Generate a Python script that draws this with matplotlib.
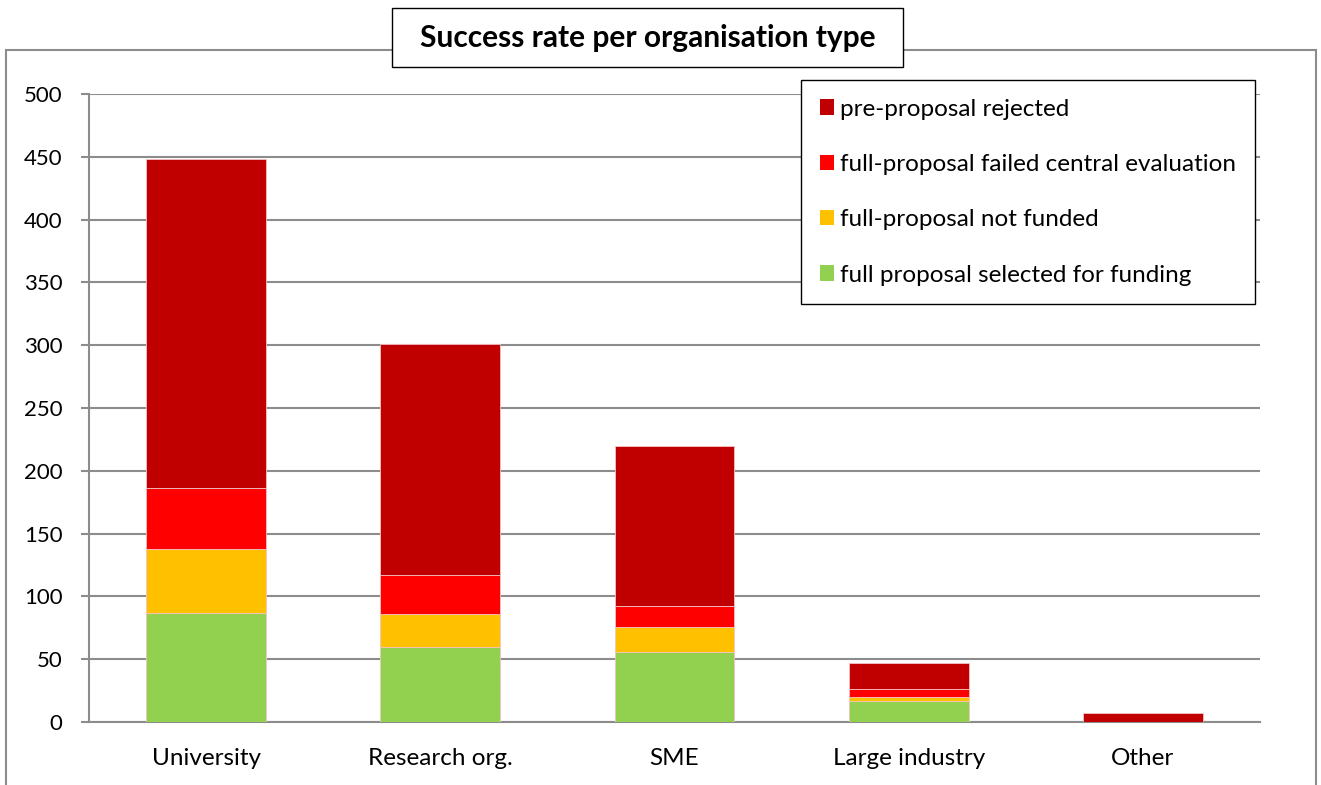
import matplotlib
matplotlib.use('Agg')
import matplotlib.pyplot as plt
from matplotlib.patches import Rectangle, Patch
import numpy as np

plt.rcParams['font.family'] = ['Lato', 'DejaVu Sans']

categories = ['University', 'Research org.', 'SME', 'Large industry', 'Other']
selected = [87, 60, 56, 17, 0]
not_funded = [51, 26, 20, 3, 0]
failed_central = [48, 31, 16, 6, 0]
pre_rejected = [262, 184, 128, 21, 7]

series = [
    ('full proposal selected for funding', selected, '#92D050'),
    ('full-proposal not funded', not_funded, '#FFC000'),
    ('full-proposal failed central evaluation', failed_central, '#FF0000'),
    ('pre-proposal rejected', pre_rejected, '#C00000'),
]

W, H = 1321, 785
fig = plt.figure(figsize=(W / 100, H / 100), dpi=100)
ax = fig.add_axes([89 / W, 63 / H, 1171 / W, 628 / H])

x = np.arange(len(categories))
bottom = np.zeros(len(categories))
for name, vals, col in series:
    ax.bar(x, vals, 0.512, bottom=bottom, color=col, edgecolor='#f4c4c4',
           linewidth=0.6, label=name, zorder=3)
    bottom += np.array(vals)

ax.set_xlim(-0.5, 4.5)
ax.set_ylim(0, 500)
ax.set_yticks(range(0, 501, 50))
ax.set_xticks(x)
ax.set_xticklabels(categories)
ax.yaxis.grid(True, color='#8c8c8c', linewidth=1.5, zorder=0)
ax.set_axisbelow(True)
for s in ['top', 'right']:
    ax.spines[s].set_visible(False)
ax.spines['left'].set_color('#8c8c8c')
ax.spines['left'].set_linewidth(1.5)
ax.spines['bottom'].set_color('#8c8c8c')
ax.spines['bottom'].set_linewidth(1.5)
ax.tick_params(axis='y', length=6, width=1.5, color='#8c8c8c', pad=13, labelsize=16)
ax.tick_params(axis='x', length=0, pad=19, labelsize=17.5)

# outer chart border
fig.patches.append(Rectangle((6 / W, -0.02), 1310 / W, (785 - 50) / H + 0.02,
                             transform=fig.transFigure, fill=False,
                             edgecolor='#8c8c8c', linewidth=1.5, zorder=0))

# title box
fig.patches.append(Rectangle((392 / W, (H - 67) / H), 511 / W, 59 / H,
                             transform=fig.transFigure, facecolor='white',
                             edgecolor='black', linewidth=1, zorder=5))
fig.text(647.5 / W, (H - 38) / H, 'Success rate per organisation type',
         ha='center', va='center', fontsize=21.5, fontweight='bold', zorder=6)

handles = [Patch(facecolor=c, edgecolor='none') for _, _, c in series][::-1]
labels = [n for n, _, _ in series][::-1]
leg = fig.legend(handles, labels, loc='upper left',
                 bbox_to_anchor=(801 / W, (H - 80) / H), fontsize=17.5,
                 frameon=True, fancybox=False, framealpha=1, edgecolor='black',
                 borderpad=0.77, labelspacing=1.41, handlelength=0.6,
                 handleheight=0.6, handletextpad=0.25, borderaxespad=0)
leg.get_frame().set_linewidth(1)

fig.savefig('out.png', dpi=100)
